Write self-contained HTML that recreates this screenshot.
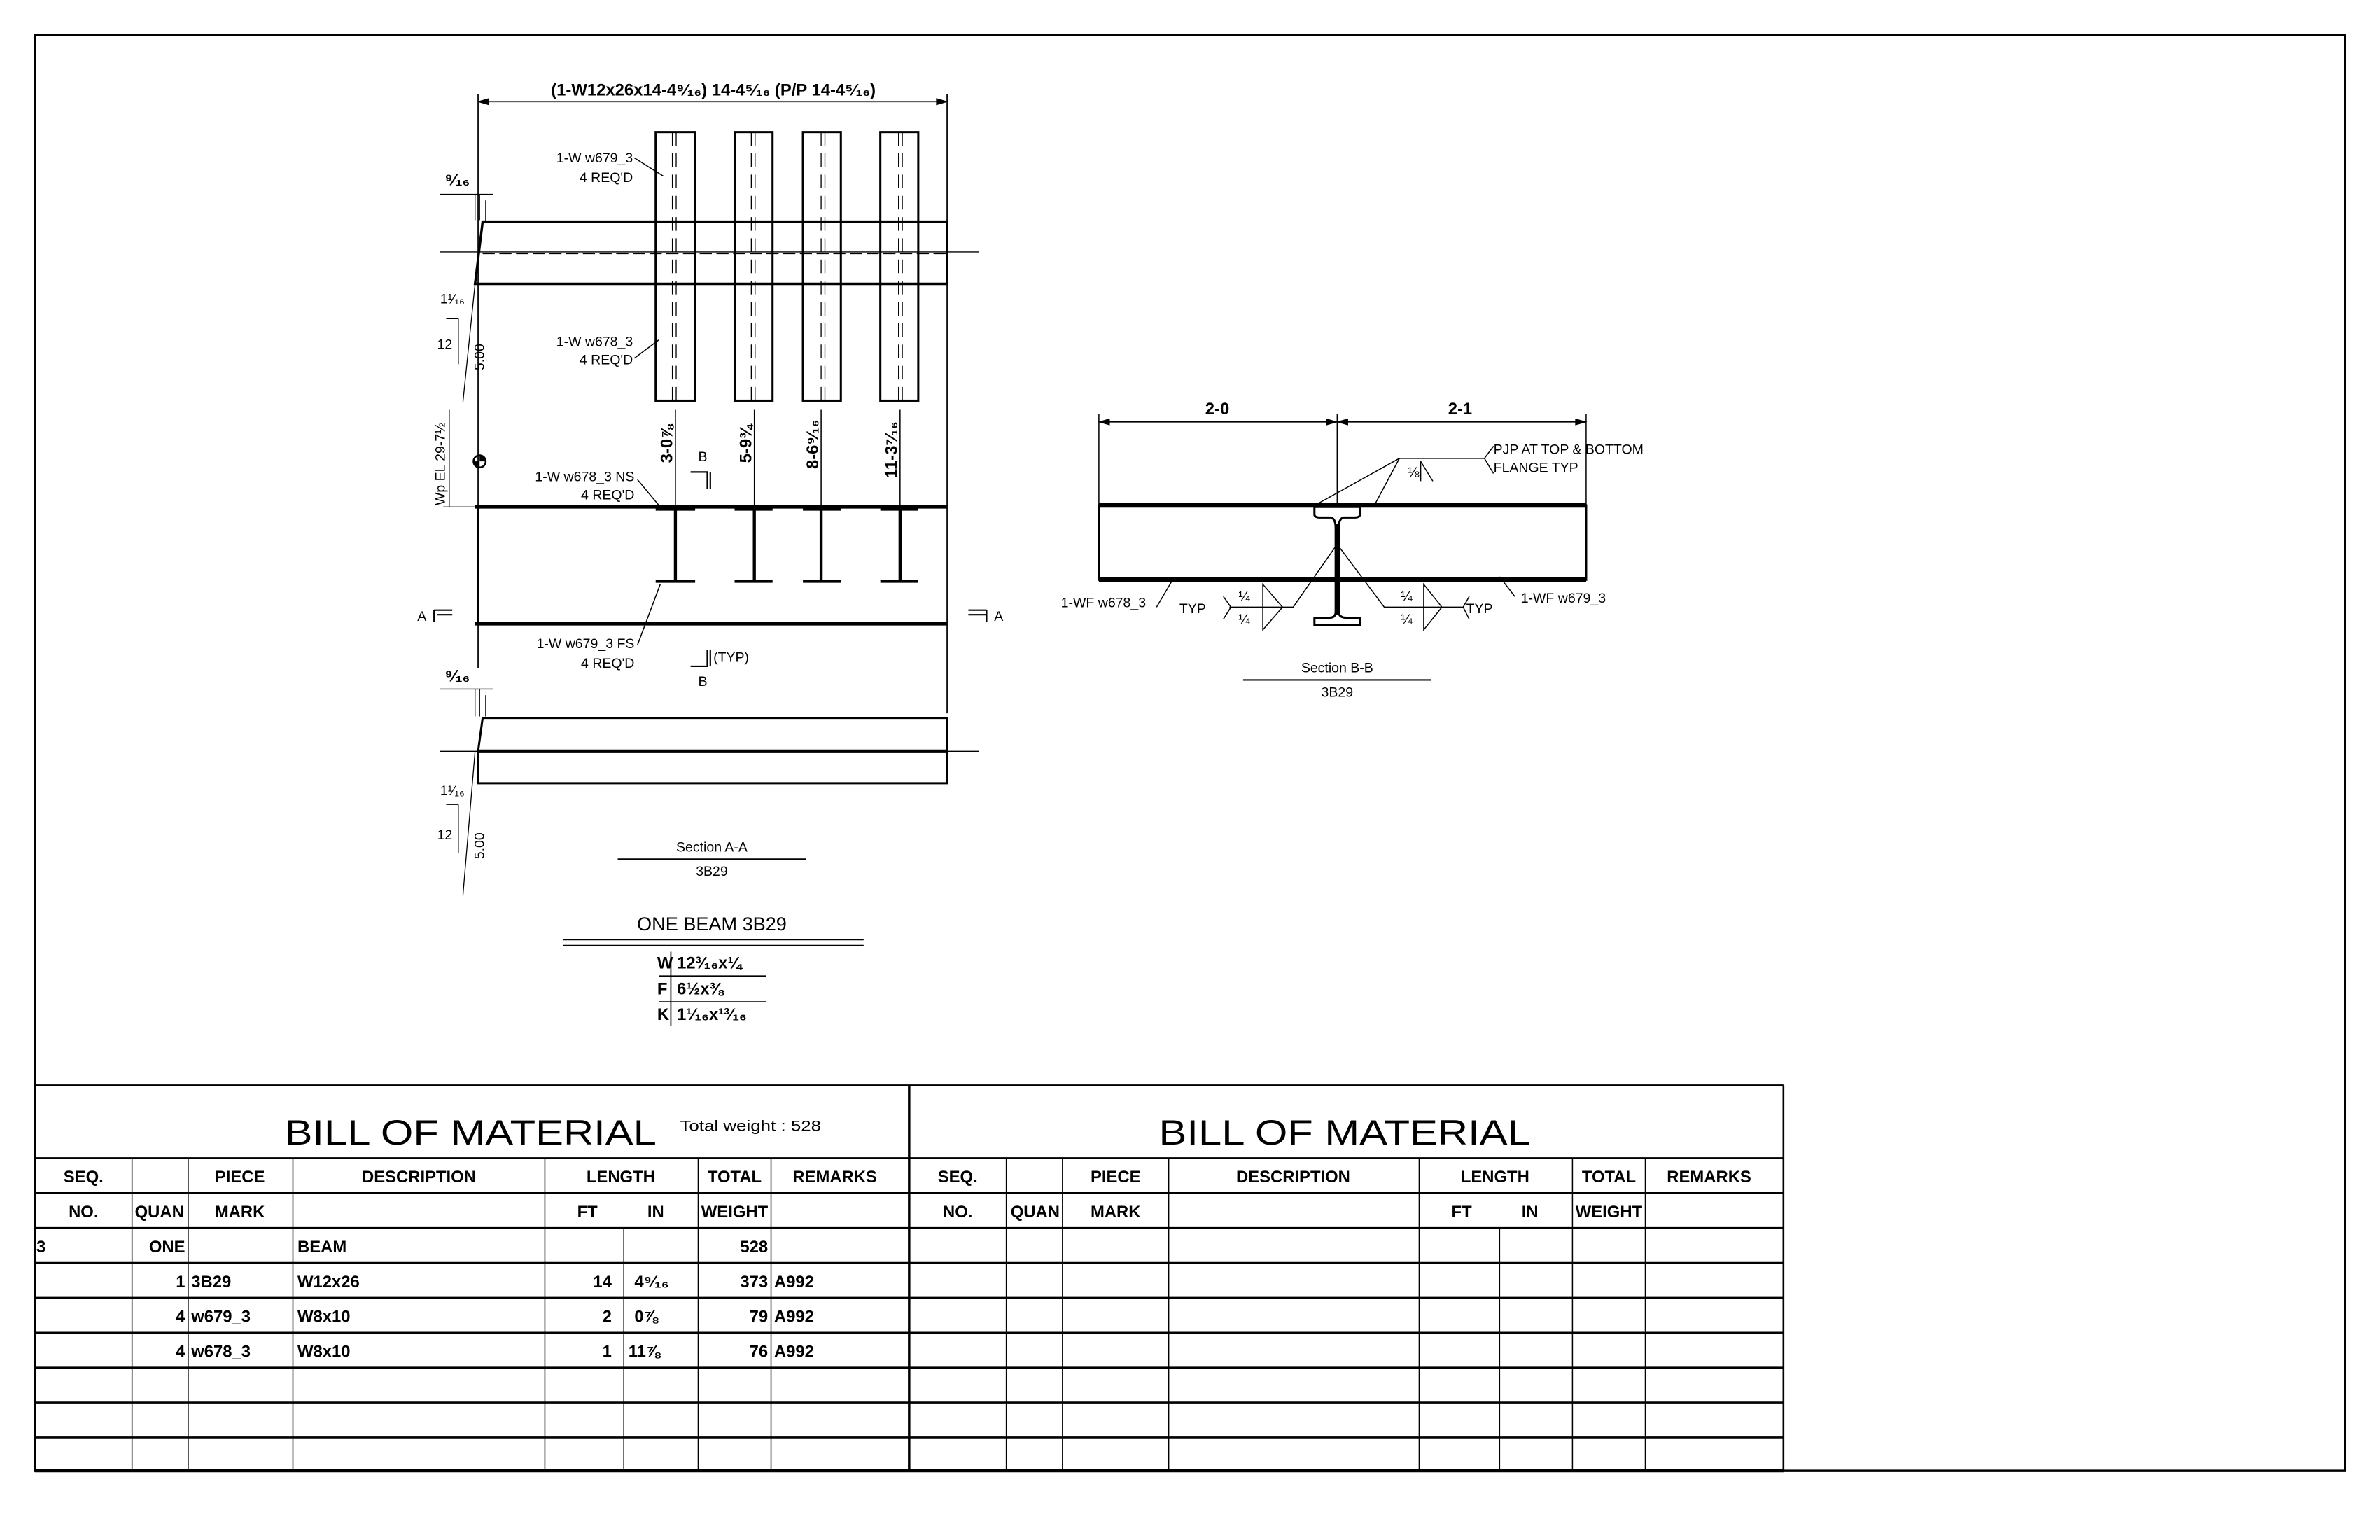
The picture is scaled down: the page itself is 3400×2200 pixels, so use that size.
<!DOCTYPE html>
<html><head><meta charset="utf-8"><style>
html,body{margin:0;padding:0;background:#fff;}
svg{display:block;}
text{font-family:"Liberation Sans",sans-serif;fill:#000;}
.s{font-size:9px;}
.b{font-family:"Liberation Sans",sans-serif;font-weight:bold;font-size:11px;}
.t{font-size:11px;font-weight:bold;}
</style></head><body>
<svg width="3400" height="2200" viewBox="0 0 1568 1014.6" xmlns="http://www.w3.org/2000/svg">
<rect x="0" y="0" width="1568" height="1015" fill="#fff"/>
<g fill="none" stroke="#000">
<rect x="23" y="23" width="1522" height="946" stroke-width="1.6"/>

<!-- ===== Section A-A plan ===== -->
<line x1="315" y1="67" x2="624" y2="67" stroke-width="0.8"/>
<path d="M315 67 l7 -2 v4 z M624 67 l-7 -2 v4 z" fill="#000" stroke-width="0.5"/>
<line x1="315" y1="62" x2="315" y2="440" stroke-width="0.8"/>
<line x1="624" y1="62" x2="624" y2="470" stroke-width="0.8"/>
<path d="M318 146 H624 V187 H313 Z" stroke-width="1.6"/>
<line x1="290" y1="166" x2="645" y2="166" stroke-width="0.6"/>
<line x1="318" y1="167" x2="624" y2="167" stroke-width="0.9" stroke-dasharray="8 3"/>
<line x1="290" y1="128" x2="325" y2="128" stroke-width="0.6"/>
<line x1="313" y1="128" x2="313" y2="145" stroke-width="0.6"/>
<line x1="316" y1="128" x2="316" y2="145" stroke-width="0.6"/>
<line x1="320" y1="132" x2="320" y2="146" stroke-width="0.6"/>
<path d="M313 187 L305 265 M302 210 V240 M294 210 H302" stroke-width="0.6"/>
<g stroke-width="1.4">
<rect x="432" y="87" width="26" height="177"/>
<rect x="484" y="87" width="25" height="177"/>
<rect x="529" y="87" width="25" height="177"/>
<rect x="580" y="87" width="25" height="177"/>
</g>
<g stroke-width="0.6" stroke-dasharray="9 5">
<line x1="445.5" y1="87" x2="445.5" y2="264"/><line x1="443" y1="87" x2="443" y2="264"/>
<line x1="497.5" y1="87" x2="497.5" y2="264"/><line x1="495" y1="87" x2="495" y2="264"/>
<line x1="541" y1="87" x2="541" y2="264"/><line x1="543.5" y1="87" x2="543.5" y2="264"/>
<line x1="592" y1="87" x2="592" y2="264"/><line x1="594.5" y1="87" x2="594.5" y2="264"/>
</g>
<path d="M418 104 L437 116 M418 236 L434 224" stroke-width="0.7"/>
<path d="M445 270 V333 M497 270 V333 M541 270 V333 M593 270 V333" stroke-width="0.7"/>
<path d="M296 270 V334 M292 334 H315" stroke-width="0.6"/>
<circle cx="316" cy="304" r="4" stroke-width="1.2"/>
<path d="M316 300 A4 4 0 0 1 320 304 L316 304 Z M316 308 A4 4 0 0 1 312 304 L316 304 Z" fill="#000" stroke="none"/>
<line x1="313" y1="334" x2="624" y2="334" stroke-width="2.2"/>
<line x1="313" y1="411" x2="624" y2="411" stroke-width="2.2"/>
<line x1="315" y1="334" x2="315" y2="411" stroke-width="1.4"/>
<g stroke-width="2">
<path d="M445 336 V383 M432 383 H458"/>
<path d="M497 336 V383 M484 383 H509"/>
<path d="M541 336 V383 M529 383 H554"/>
<path d="M593 336 V383 M580 383 H605"/>
<path d="M432 335 H458 M484 335 H509 M529 335 H554 M580 335 H605" stroke-width="3"/>
</g>
<path d="M420 316 L435 334 M420 425 L435 385" stroke-width="0.7"/>
<path d="M455 311 H466 V322 M468 311 V322" stroke-width="1"/>
<path d="M455 439 H466 V428 M468 439 V428" stroke-width="1"/>
<path d="M286 402 H298 M288 405 H298 M286 402 V410" stroke-width="1"/>
<path d="M650 402 H638 M650 405 H638 M650 402 V410" stroke-width="1"/>
<path d="M318 473 H624 V516 H315 V495 Z" stroke-width="1.4"/>
<line x1="315" y1="495" x2="624" y2="495" stroke-width="2.4"/>
<line x1="290" y1="495" x2="645" y2="495" stroke-width="0.6"/>
<line x1="290" y1="454" x2="325" y2="454" stroke-width="0.6"/>
<path d="M313 454 V472 M316 454 V472 M320 458 V472 M313 495 L305 590 M302 530 V562 M294 530 H302" stroke-width="0.6"/>
<line x1="407" y1="566" x2="531" y2="566" stroke-width="1"/>
<line x1="371" y1="619" x2="569" y2="619" stroke-width="1"/>
<line x1="371" y1="623" x2="569" y2="623" stroke-width="1"/>
<path d="M442 627 V676 M434 643 H505 M434 660 H505" stroke-width="0.8"/>

<!-- ===== Section B-B ===== -->
<line x1="724" y1="278" x2="1045" y2="278" stroke-width="0.8"/>
<path d="M724 278 l7 -2 v4 z M881 278 l-7 -2 v4 z M881 278 l7 -2 v4 z M1045 278 l-7 -2 v4 z" fill="#000" stroke-width="0.4"/>
<path d="M724 273 V333 M1045 273 V333 M881 273 V340" stroke-width="0.7"/>
<rect x="724" y="333" width="321" height="49" stroke-width="1.4"/>
<line x1="724" y1="333" x2="1045" y2="333" stroke-width="3"/>
<line x1="724" y1="382" x2="1045" y2="382" stroke-width="3"/>
<path d="M866 334 H896 V339 Q896 341 892 341 H885 Q882 342 882 348 V403 Q882 407 887 407 H896 V412 H866 V407 H876 Q880 407 880 403 V348 Q880 342 877 341 H870 Q866 341 866 339 Z" stroke-width="1.4" fill="#fff"/>
<line x1="881" y1="345" x2="881" y2="405" stroke-width="2"/>
<path d="M922 302 H978 M922 302 L868 332 M922 302 L906 332 M936 304 V317 M936 304 L944 317 M978 302 L984 294 M978 302 L984 312" stroke-width="0.7"/>
<path d="M762 400 L772 383 M998 393 L988 380" stroke-width="0.7"/>
<path d="M810 400 H852 L880 360 M832 385 L845 400 L832 415 Z M811 400 L806 393 M811 400 L806 408" stroke-width="0.7"/>
<path d="M952 400 H912 L882 360 M938 385 L950 400 L938 415 Z M952 400 H964 L968 393 M964 400 L968 408" stroke-width="0.7"/>
<line x1="819" y1="448" x2="943" y2="448" stroke-width="1"/>

<!-- ===== BOM tables ===== -->
<g stroke-width="1.2">
<line x1="23" y1="715" x2="1175" y2="715"/>
<line x1="1175" y1="715" x2="1175" y2="969"/>
<line x1="599" y1="715" x2="599" y2="969" stroke-width="1.6"/>
<line x1="23" y1="969" x2="1175" y2="969" stroke-width="2"/>
<path d="M23 763 H1175 M23 786 H1175 M23 809 H1175 M23 832 H1175 M23 855 H1175 M23 878 H1175 M23 901 H1175 M23 924 H1175 M23 947 H1175"/>
</g>
<g stroke-width="0.7">
<path d="M87 763 V969 M124 763 V969 M193 763 V969 M359 763 V969 M411 809 V969 M460 763 V969 M508 763 V969"/>
<path d="M663 763 V969 M700 763 V969 M770 763 V969 M935 763 V969 M988 809 V969 M1036 763 V969 M1084 763 V969"/>
</g>
</g>

<!-- ===== Text ===== -->
<text x="470" y="63" class="t" text-anchor="middle" font-size="10">(1-W12x26x14-4⁹⁄₁₆)   14-4⁵⁄₁₆   (P/P 14-4⁵⁄₁₆)</text>
<text x="417" y="107" class="s" text-anchor="end">1-W w679_3</text>
<text x="417" y="120" class="s" text-anchor="end">4 REQ'D</text>
<text x="417" y="228" class="s" text-anchor="end">1-W w678_3</text>
<text x="417" y="240" class="s" text-anchor="end">4 REQ'D</text>
<text x="418" y="317" class="s" text-anchor="end">1-W w678_3 NS</text>
<text x="418" y="329" class="s" text-anchor="end">4 REQ'D</text>
<text x="418" y="427" class="s" text-anchor="end">1-W w679_3 FS</text>
<text x="418" y="440" class="s" text-anchor="end">4 REQ'D</text>
<text x="293" y="122" class="t" font-size="9">⁹⁄₁₆</text>
<text x="290" y="200" class="s">1¹⁄₁₆</text>
<text x="288" y="230" class="s">12</text>
<text transform="translate(319,244) rotate(-90)" class="s">5.00</text>
<text x="293" y="449" class="t" font-size="9">⁹⁄₁₆</text>
<text x="290" y="524" class="s">1¹⁄₁₆</text>
<text x="288" y="553" class="s">12</text>
<text transform="translate(319,566) rotate(-90)" class="s">5.00</text>
<text transform="translate(293,333) rotate(-90)" class="s">Wp EL 29-7½</text>
<text transform="translate(443,305) rotate(-90)" class="t" font-size="10">3-0⅞</text>
<text transform="translate(495,305) rotate(-90)" class="t" font-size="10">5-9¾</text>
<text transform="translate(539,309) rotate(-90)" class="t" font-size="10">8-6⁹⁄₁₆</text>
<text transform="translate(591,315) rotate(-90)" class="t" font-size="10">11-3⁷⁄₁₆</text>
<text x="460" y="304" class="s" font-size="10">B</text>
<text x="460" y="452" class="s" font-size="10">B</text>
<text x="470" y="436" class="s">(TYP)</text>
<text x="275" y="409" class="s" font-size="10">A</text>
<text x="655" y="409" class="s" font-size="10">A</text>
<text x="469" y="561" class="s" font-size="11" text-anchor="middle">Section A-A</text>
<text x="469" y="577" class="s" font-size="8.5" text-anchor="middle">3B29</text>
<text x="469" y="613" font-size="12.5" text-anchor="middle">ONE BEAM 3B29</text>
<text x="433" y="638" class="t" font-size="9">W</text><text x="446" y="638" class="t" font-size="9">12³⁄₁₆x¼</text>
<text x="433" y="655" class="t" font-size="9">F</text><text x="446" y="655" class="t" font-size="9">6½x⅜</text>
<text x="433" y="672" class="t" font-size="9">K</text><text x="446" y="672" class="t" font-size="9">1¹⁄₁₆x¹³⁄₁₆</text>

<text x="802" y="273" class="t" font-size="10" text-anchor="middle">2-0</text>
<text x="962" y="273" class="t" font-size="10" text-anchor="middle">2-1</text>
<text x="984" y="299" class="s">PJP AT TOP &amp; BOTTOM</text>
<text x="984" y="311" class="s">FLANGE TYP</text>
<text x="935" y="314" class="s" font-size="8" text-anchor="end">⅛</text>
<text x="699" y="400" class="s">1-WF w678_3</text>
<text x="777" y="404" class="s">TYP</text>
<text x="816" y="396" class="s" font-size="8">¼</text><text x="816" y="411" class="s" font-size="8">¼</text>
<text x="923" y="396" class="s" font-size="8">¼</text><text x="923" y="411" class="s" font-size="8">¼</text>
<text x="966" y="404" class="s">TYP</text>
<text x="1002" y="397" class="s">1-WF w679_3</text>
<text x="881" y="443" class="s" font-size="11" text-anchor="middle">Section B-B</text>
<text x="881" y="459" class="s" font-size="8.5" text-anchor="middle">3B29</text>

<text x="310" y="754" font-size="23" text-anchor="middle" textLength="245" lengthAdjust="spacingAndGlyphs">BILL OF MATERIAL</text>
<text x="448" y="745" font-size="10" textLength="93" lengthAdjust="spacingAndGlyphs">Total weight : 528</text>
<text x="886" y="754" font-size="23" text-anchor="middle" textLength="245" lengthAdjust="spacingAndGlyphs">BILL OF MATERIAL</text>
<g class="b" font-size="11">
<text x="55" y="779" text-anchor="middle" class="b">SEQ.</text>
<text x="158" y="779" text-anchor="middle" class="b">PIECE</text>
<text x="276" y="779" text-anchor="middle" class="b">DESCRIPTION</text>
<text x="409" y="779" text-anchor="middle" class="b">LENGTH</text>
<text x="484" y="779" text-anchor="middle" class="b">TOTAL</text>
<text x="550" y="779" text-anchor="middle" class="b">REMARKS</text>
<text x="55" y="802" text-anchor="middle" class="b">NO.</text>
<text x="105" y="802" text-anchor="middle" class="b">QUAN</text>
<text x="158" y="802" text-anchor="middle" class="b">MARK</text>
<text x="387" y="802" text-anchor="middle" class="b">FT</text>
<text x="432" y="802" text-anchor="middle" class="b">IN</text>
<text x="484" y="802" text-anchor="middle" class="b">WEIGHT</text>

<text x="631" y="779" text-anchor="middle" class="b">SEQ.</text>
<text x="735" y="779" text-anchor="middle" class="b">PIECE</text>
<text x="852" y="779" text-anchor="middle" class="b">DESCRIPTION</text>
<text x="985" y="779" text-anchor="middle" class="b">LENGTH</text>
<text x="1060" y="779" text-anchor="middle" class="b">TOTAL</text>
<text x="1126" y="779" text-anchor="middle" class="b">REMARKS</text>
<text x="631" y="802" text-anchor="middle" class="b">NO.</text>
<text x="682" y="802" text-anchor="middle" class="b">QUAN</text>
<text x="735" y="802" text-anchor="middle" class="b">MARK</text>
<text x="963" y="802" text-anchor="middle" class="b">FT</text>
<text x="1008" y="802" text-anchor="middle" class="b">IN</text>
<text x="1060" y="802" text-anchor="middle" class="b">WEIGHT</text>

<text x="24" y="825" class="b">3</text>
<text x="122" y="825" text-anchor="end" class="b">ONE</text>
<text x="196" y="825" class="b">BEAM</text>
<text x="506" y="825" text-anchor="end" class="b">528</text>

<text x="122" y="848" text-anchor="end" class="b">1</text>
<text x="126" y="848" class="b">3B29</text>
<text x="196" y="848" class="b">W12x26</text>
<text x="403" y="848" text-anchor="end" class="b">14</text>
<text x="418" y="848" class="b">4⁹⁄₁₆</text>
<text x="506" y="848" text-anchor="end" class="b">373</text>
<text x="510" y="848" class="b">A992</text>

<text x="122" y="871" text-anchor="end" class="b">4</text>
<text x="126" y="871" class="b">w679_3</text>
<text x="196" y="871" class="b">W8x10</text>
<text x="403" y="871" text-anchor="end" class="b">2</text>
<text x="418" y="871" class="b">0⅞</text>
<text x="506" y="871" text-anchor="end" class="b">79</text>
<text x="510" y="871" class="b">A992</text>

<text x="122" y="894" text-anchor="end" class="b">4</text>
<text x="126" y="894" class="b">w678_3</text>
<text x="196" y="894" class="b">W8x10</text>
<text x="403" y="894" text-anchor="end" class="b">1</text>
<text x="414" y="894" class="b">11⅞</text>
<text x="506" y="894" text-anchor="end" class="b">76</text>
<text x="510" y="894" class="b">A992</text>
</g>
</svg>
</body></html>
